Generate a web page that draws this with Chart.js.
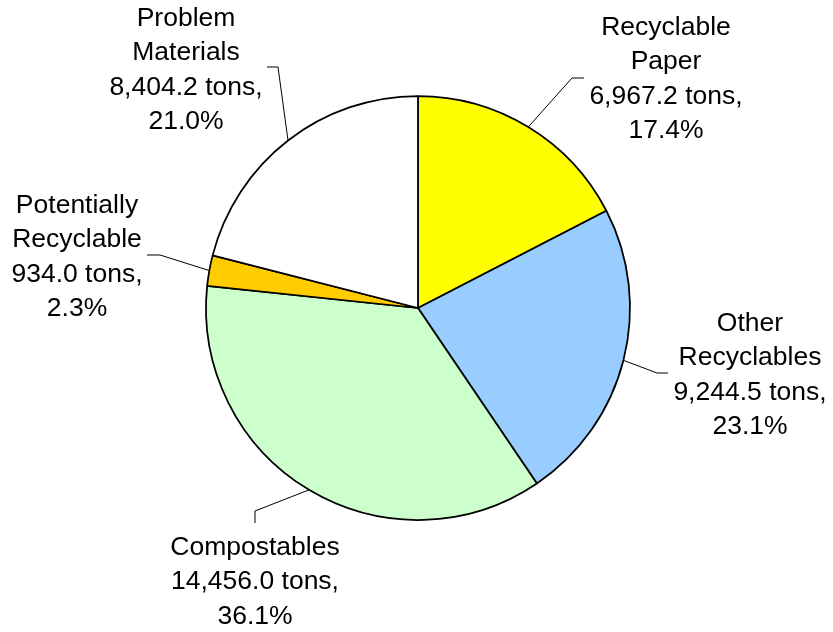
<!DOCTYPE html>
<html>
<head>
<meta charset="utf-8">
<script src="https://cdn.jsdelivr.net/npm/chart.js@4.4.1/dist/chart.umd.min.js"></script>
<style>
  body { margin: 0; background: #fff; }
  canvas { display: block; }
</style>
</head>
<body>
<canvas id="wasteChart" width="833" height="632"></canvas>
<script>
// waste stream composition, tons
let categories = ['Recyclable Paper', 'Other Recyclables', 'Compostables', 'Potentially Recyclable', 'Problem Materials']
let labelLines = [['Recyclable', 'Paper'], ['Other', 'Recyclables'], ['Compostables'], ['Potentially', 'Recyclable'], ['Problem', 'Materials']]
let tons = [6967.2, 9244.5, 14456.0, 934.0, 8404.2]
let sliceColors = ['#FFFF00', '#99CCFF', '#CCFFCC', '#FFCC00', '#FFFFFF']

// where each callout goes: elbow of the leader, its end, text centre and first baseline
let callouts = [
    { elbow: [572, 78], end: [584, 78], x: 666, y: 35 },
    { elbow: [657, 373], end: [668, 373], x: 750, y: 331 },
    { elbow: [255, 511], end: [255, 523], x: 255, y: 555 },
    { elbow: [160, 255], end: [147, 255], x: 77, y: 213 },
    { elbow: [278, 67], end: [267, 67], x: 186, y: 26 }
]
let lineGap = 34.3

let total = tons.reduce((a, b) => a + b, 0)

const calloutPlugin = {
    id: 'callouts',
    afterDraw(chart) {
        let ctx = chart.ctx
        let meta = chart.getDatasetMeta(0)
        ctx.save()
        meta.data.forEach((arc, i) => {
            let p = arc.getProps(['x', 'y', 'startAngle', 'endAngle', 'outerRadius'], true)
            let mid = (p.startAngle + p.endAngle) / 2
            let sx = p.x + Math.cos(mid) * p.outerRadius
            let sy = p.y + Math.sin(mid) * p.outerRadius
            let c = callouts[i]

            ctx.strokeStyle = '#000'
            ctx.lineWidth = 1
            ctx.beginPath()
            ctx.moveTo(sx, sy)
            ctx.lineTo(c.elbow[0], c.elbow[1])
            ctx.lineTo(c.end[0], c.end[1])
            ctx.stroke()

            let value = tons[i].toLocaleString('en-US', { minimumFractionDigits: 1, maximumFractionDigits: 1 })
            let pct = (tons[i] / total * 100).toFixed(1)
            let lines = labelLines[i].concat([value + ' tons,', pct + '%'])

            ctx.fillStyle = '#000'
            ctx.font = '26.5px "Liberation Sans", Arial, sans-serif'
            ctx.textAlign = 'center'
            ctx.textBaseline = 'alphabetic'
            lines.forEach((t, k) => {
                ctx.fillText(t, c.x, c.y + k * lineGap)
            })
        })
        ctx.restore()
    }
}

new Chart(document.getElementById('wasteChart'), {
    type: 'pie',
    data: {
        labels: categories,
        datasets: [{
            data: tons,
            backgroundColor: sliceColors,
            borderColor: '#000',
            borderWidth: 1.75,
            radius: 212
        }]
    },
    options: {
        responsive: false,
        animation: false,
        layout: { padding: { left: 3, right: 0, top: 0, bottom: 16 } },
        plugins: {
            legend: { display: false },
            tooltip: { enabled: false }
        }
    },
    plugins: [calloutPlugin]
})
</script>
</body>
</html>
